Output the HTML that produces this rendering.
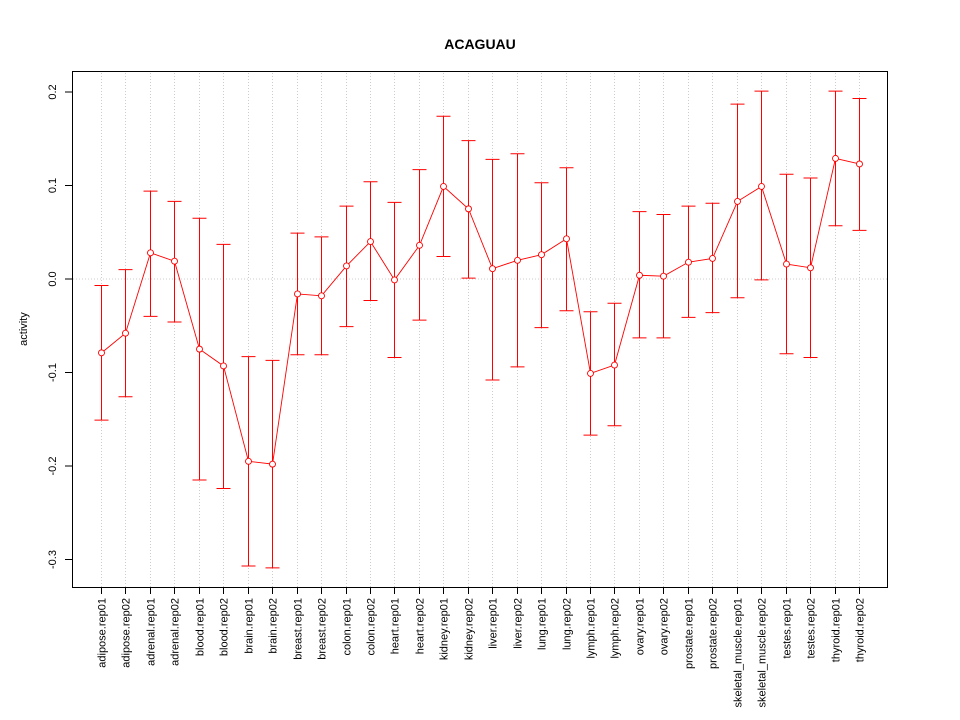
<!DOCTYPE html>
<html><head><meta charset="utf-8"><style>body{margin:0;background:#fff}svg{display:block;font-family:"Liberation Sans",sans-serif}</style></head>
<body>
<svg id="chart" width="960" height="720">
<text x="480" y="49" text-anchor="middle" font-weight="bold" font-size="14">ACAGUAU</text>
<text transform="translate(27,329) rotate(-90)" text-anchor="middle" font-size="11">activity</text>
<g id="g"></g>
<rect x="72.5" y="71.5" width="815" height="516" fill="none" stroke="#000"/>
</svg>
<script>
const categories=["adipose.rep01","adipose.rep02","adrenal.rep01","adrenal.rep02","blood.rep01","blood.rep02","brain.rep01","brain.rep02","breast.rep01","breast.rep02","colon.rep01","colon.rep02","heart.rep01","heart.rep02","kidney.rep01","kidney.rep02","liver.rep01","liver.rep02","lung.rep01","lung.rep02","lymph.rep01","lymph.rep02","ovary.rep01","ovary.rep02","prostate.rep01","prostate.rep02","skeletal_muscle.rep01","skeletal_muscle.rep02","testes.rep01","testes.rep02","thyroid.rep01","thyroid.rep02"];
const values=[-0.079,-0.058,0.028,0.019,-0.075,-0.093,-0.195,-0.198,-0.016,-0.018,0.014,0.040,-0.001,0.036,0.099,0.075,0.011,0.020,0.026,0.043,-0.101,-0.092,0.004,0.003,0.018,0.022,0.083,0.099,0.016,0.012,0.129,0.123];
const upper=[-0.007,0.010,0.094,0.083,0.065,0.037,-0.083,-0.087,0.049,0.045,0.078,0.104,0.082,0.117,0.174,0.148,0.128,0.134,0.103,0.119,-0.035,-0.026,0.072,0.069,0.078,0.081,0.187,0.201,0.112,0.108,0.201,0.193];
const lower=[-0.151,-0.126,-0.040,-0.046,-0.215,-0.224,-0.307,-0.309,-0.081,-0.081,-0.051,-0.023,-0.084,-0.044,0.024,0.001,-0.108,-0.094,-0.052,-0.034,-0.167,-0.157,-0.063,-0.063,-0.041,-0.036,-0.020,-0.001,-0.080,-0.084,0.057,0.052];
const yTicks=[-0.3,-0.2,-0.1,0.0,0.1,0.2];
const yTickLabels=["-0.3","-0.2","-0.1","0.0","0.1","0.2"];
const NS="http://www.w3.org/2000/svg",g=document.getElementById('g');
const x=i=>Math.round(101+i*(758/(categories.length-1)))+0.5;
const y=v=>279-v*935;
function mk(t,a){const e=document.createElementNS(NS,t);for(const k in a)e.setAttribute(k,a[k]);g.appendChild(e);return e;}
categories.forEach((c,i)=>{
 const l=mk('line',{x1:x(i),x2:x(i),y1:73,y2:587,stroke:'#ccc','stroke-dasharray':'1,2'});
 
 
 const t=mk('line',{x1:x(i),x2:x(i),y1:587,y2:594,stroke:'#000'});
 
 
 const tx=mk('text',{transform:`translate(${x(i)+4},598) rotate(-90)`,'text-anchor':'end','font-size':'11'});
 tx.textContent=c;
 
 
});
const z=mk('line',{x1:73,x2:887,y1:y(0),y2:y(0),stroke:'#ccc','stroke-dasharray':'1,2'});


yTicks.forEach((v,i)=>{
 const t=mk('line',{x1:65,x2:72,y1:y(v),y2:y(v),stroke:'#000'});
 
 
 const tx=mk('text',{transform:`translate(56,${y(v)}) rotate(-90)`,'text-anchor':'middle','font-size':'11'});
 tx.textContent=yTickLabels[i];
 
 
});
values.forEach((v,i)=>{
 const e=mk('path',{d:`M${x(i)},${y(upper[i])}V${y(lower[i])}M${x(i)-7},${y(upper[i])}h14M${x(i)-7},${y(lower[i])}h14`,stroke:'#f00',fill:'none','stroke-width':'1'});
 
 
});
const ln=mk('polyline',{points:values.map((v,i)=>x(i)+','+y(v)).join(' '),stroke:'#f00',fill:'none','stroke-width':'0.9'});


values.forEach((v,i)=>{
 const c=mk('circle',{cx:x(i),cy:y(v),r:3,stroke:'#f00',fill:'#fff','stroke-width':'0.9'});
 
 
});
</script>
</body></html>
